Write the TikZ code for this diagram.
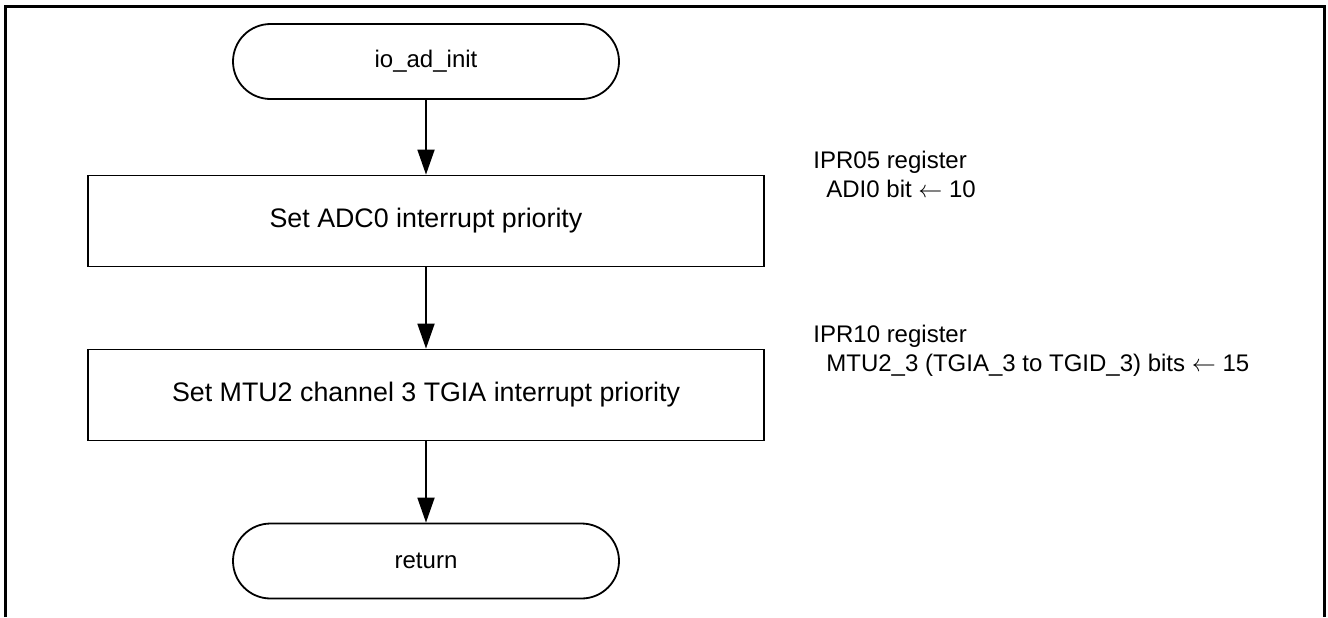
\documentclass[tikz,border=0pt]{standalone}
\usepackage{fontspec}
\setmainfont{Liberation Sans}
\usetikzlibrary{arrows.meta}
\tikzset{
  term/.style={draw, line width=0.9pt, rectangle, rounded corners=18.75pt, minimum width=193pt, minimum height=37.5pt, inner sep=0pt},
  procbox/.style={draw, line width=0.9pt, rectangle, minimum width=338pt, minimum height=45.5pt, inner sep=0pt, font=\fontsize{13.4}{16}\selectfont},
  flow/.style={line width=0.9pt, -{Triangle[length=12.5pt,width=8.5pt]}},
  note/.style={anchor=base west, align=left, inner sep=0pt, font=\fontsize{12}{14.5}\selectfont}
}

\begin{document}
\begin{tikzpicture}[x=0.5pt, y=-0.5pt, font=\fontsize{12}{14.5}\selectfont]
            \useasboundingbox (0,0) rectangle (1328,617);
            \draw[line width=1.5pt] (5,617) -- (5,6) -- (1324,6) -- (1324,617);

            \node[term] (start) at (426,61.5) {io\_ad\_init};
            \node[procbox] (adc) at (426,221) {Set ADC0 interrupt priority};
            \node[procbox] (mtu) at (426,395) {Set MTU2 channel 3 TGIA interrupt priority};
            \node[term] (ret) at (426,561) {return};

            \draw[flow] (start) -- (adc);
            \draw[flow] (adc) -- (mtu);
            \draw[flow] (mtu) -- (ret);

            \node[note] (adcnote) at (813,197) {IPR05 register\\\hspace*{6.5pt}ADI0 bit $\leftarrow$ 10};
            \node[note] (mtunote) at (813,371) {IPR10 register\\\hspace*{6.5pt}MTU2\_3 (TGIA\_3 to TGID\_3) bits $\leftarrow$ 15};
        \end{tikzpicture}
\end{document}
